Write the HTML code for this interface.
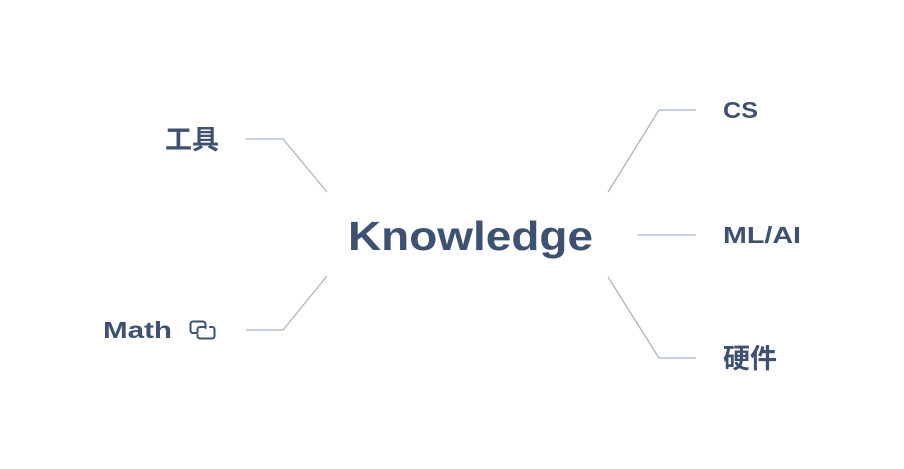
<!DOCTYPE html>
<html><head><meta charset="utf-8"><style>
html,body{margin:0;padding:0;background:#fff;width:904px;height:469px;overflow:hidden}
text{font-family:"Liberation Sans","Noto Sans CJK SC",sans-serif;font-weight:bold;fill:#3f5170}
</style></head><body>
<svg width="904" height="469" viewBox="0 0 904 469">
<g fill="none" stroke="#a7b6c9" stroke-width="1.3">
<polyline points="608,192 659,110 696,110"/>
<polyline points="638,235 696,235"/>
<polyline points="608,277 659,358 696,358"/>
<polyline points="327,192 283,139 246,139"/>
<polyline points="327,276 283,330 246,330"/>
</g>
<text x="348" y="250" font-size="41" textLength="245" lengthAdjust="spacingAndGlyphs">Knowledge</text>
<text x="723" y="118" font-size="23" textLength="35" lengthAdjust="spacingAndGlyphs">CS</text>
<text x="723" y="243" font-size="23" textLength="78" lengthAdjust="spacingAndGlyphs">ML/AI</text>
<text x="723" y="368" font-size="27">硬件</text>
<text x="165" y="149" font-size="27">工具</text>
<text x="103" y="338" font-size="23" textLength="69" lengthAdjust="spacingAndGlyphs">Math</text>
<g fill="none" stroke="#3f5170" stroke-width="2" stroke-linejoin="round" stroke-linecap="round">
<path d="M197,333 h-4 a2.5,2.5 0 0 1 -2.5,-2.5 v-6.5 a2.5,2.5 0 0 1 2.5,-2.5 h10 a2.5,2.5 0 0 1 2.5,2.5 v4"/>
<path d="M205,327 h-5 a2.5,2.5 0 0 0 -2.5,2.5 v3 M210,327 h2 a2.5,2.5 0 0 1 2.5,2.5 v6.5 a2.5,2.5 0 0 1 -2.5,2.5 h-12 a2.5,2.5 0 0 1 -2.5,-2.5 v-1"/>
</g>
</svg>
</body></html>
